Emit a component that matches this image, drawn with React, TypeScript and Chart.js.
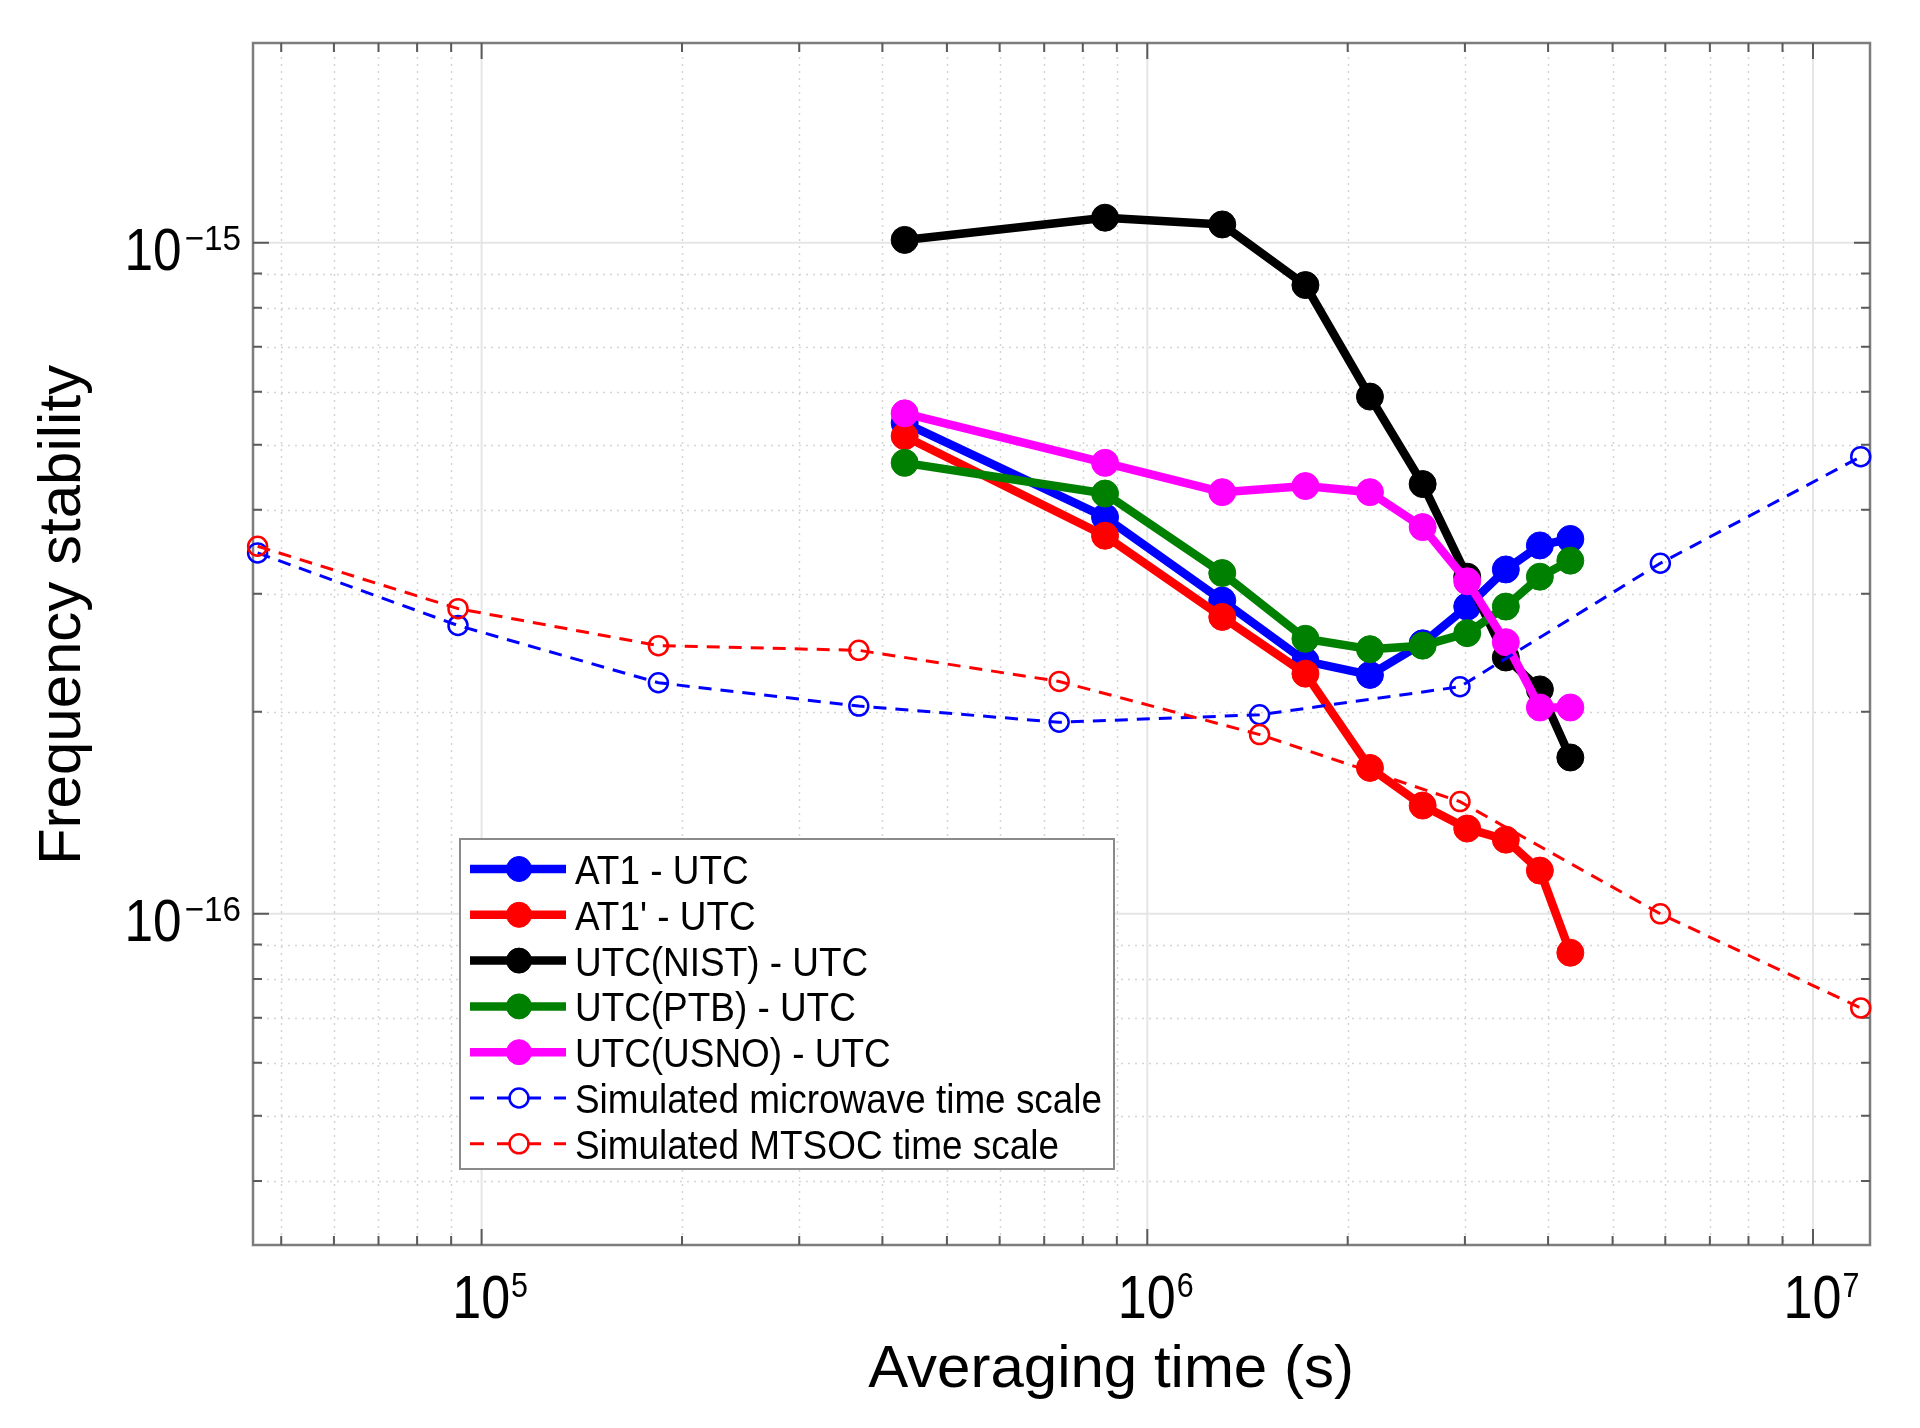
import React, { useEffect, useRef } from 'react';
import { Chart, registerables } from 'chart.js';

Chart.register(...registerables);

// ---------- data ----------
const tauMeasured = [432000, 864000, 1296000, 1728000, 2160000, 2592000, 3024000, 3456000, 3888000, 4320000];
const at1Utc = [5.39e-16, 3.9e-16, 2.93e-16, 2.38e-16, 2.27e-16, 2.53e-16, 2.87e-16, 3.26e-16, 3.54e-16, 3.62e-16];
const at1PrimeUtc = [5.15e-16, 3.66e-16, 2.77e-16, 2.28e-16, 1.65e-16, 1.45e-16, 1.34e-16, 1.29e-16, 1.16e-16, 8.75e-17];
const nistUtc = [1.01e-15, 1.09e-15, 1.065e-15, 8.65e-16, 5.9e-16, 4.37e-16, 3.18e-16, 2.41e-16, 2.16e-16, 1.71e-16];
const ptbUtc = [4.7e-16, 4.23e-16, 3.22e-16, 2.57e-16, 2.48e-16, 2.51e-16, 2.62e-16, 2.87e-16, 3.18e-16, 3.36e-16];
const usnoUtc = [5.57e-16, 4.7e-16, 4.25e-16, 4.34e-16, 4.25e-16, 3.77e-16, 3.13e-16, 2.54e-16, 2.03e-16, 2.03e-16];

const tauSimulated = [46080, 92160, 184320, 368640, 737280, 1474560, 2949120, 5898240, 11796480];
const simMicrowave = [3.45e-16, 2.69e-16, 2.21e-16, 2.04e-16, 1.93e-16, 1.98e-16, 2.18e-16, 3.33e-16, 4.8e-16];
const simMtsoc = [3.53e-16, 2.85e-16, 2.51e-16, 2.47e-16, 2.22e-16, 1.85e-16, 1.47e-16, 1.0e-16, 7.24e-17];

const seriesLabels = [
  'AT1 - UTC',
  "AT1' - UTC",
  'UTC(NIST) - UTC',
  'UTC(PTB) - UTC',
  'UTC(USNO) - UTC',
  'Simulated microwave time scale',
  'Simulated MTSOC time scale',
];

const xMajorTicks = [1e5, 1e6, 1e7];
const yMajorTicks = [1e-16, 1e-15];
const xTitle = 'Averaging time (s)';
const yTitle = 'Frequency stability';

const X_MIN = 45350;
const X_MAX = 1.218e7;
const Y_MIN = 3.21e-17;
const Y_MAX = 1.985e-15;

const FONT = '"Liberation Sans", Arial, Helvetica, sans-serif';

const toPoints = (xs: number[], ys: number[]) => xs.map((x, i) => ({ x, y: ys[i] }));

function minorValues(min: number, max: number) {
  const out: { v: number; major: boolean }[] = [];
  const d0 = Math.floor(Math.log10(min));
  const d1 = Math.ceil(Math.log10(max));
  for (let d = d0; d <= d1; d++) {
    for (let m = 1; m <= 9; m++) {
      const v = m * Math.pow(10, d);
      if (v >= min * 0.9999 && v <= max * 1.0001) out.push({ v, major: m === 1 });
    }
  }
  return out;
}

const expText = (n: number) => (n < 0 ? '\u2212' + String(-n) : String(n));

// draw text horizontally condensed by factor sx, left aligned at (x, y)
function condensedText(ctx: any, text: string, x: number, y: number, size: number, sx: number) {
  ctx.save();
  ctx.font = `${size}px ${FONT}`;
  ctx.textAlign = 'left';
  ctx.textBaseline = 'alphabetic';
  ctx.translate(x, y);
  ctx.scale(sx, 1);
  ctx.fillText(text, 0, 0);
  ctx.restore();
}
function condensedWidth(ctx: any, text: string, size: number, sx: number) {
  ctx.save();
  ctx.font = `${size}px ${FONT}`;
  const w = ctx.measureText(text).width * sx;
  ctx.restore();
  return w;
}

const axesPlugin = {
  id: 'matlabAxes',
  beforeDatasetsDraw(chart: any) {
    const { ctx, chartArea: a, scales } = chart;
    const xs = scales.x;
    const ys = scales.y;
    ctx.save();
    const xv = minorValues(X_MIN, X_MAX);
    const yv = minorValues(Y_MIN, Y_MAX);
    // minor dotted grid
    ctx.lineWidth = 1.5;
    ctx.strokeStyle = 'rgba(0,0,0,0.17)';
    ctx.setLineDash([2, 5]);
    ctx.beginPath();
    xv.filter((t) => !t.major).forEach((t) => {
      const px = Math.round(xs.getPixelForValue(t.v)) + 0.5;
      ctx.moveTo(px, a.top);
      ctx.lineTo(px, a.bottom);
    });
    yv.filter((t) => !t.major).forEach((t) => {
      const py = Math.round(ys.getPixelForValue(t.v)) + 0.5;
      ctx.moveTo(a.left, py);
      ctx.lineTo(a.right, py);
    });
    ctx.stroke();
    // major solid grid
    ctx.setLineDash([]);
    ctx.strokeStyle = 'rgba(0,0,0,0.10)';
    ctx.lineWidth = 2;
    ctx.beginPath();
    xMajorTicks.forEach((v) => {
      const px = xs.getPixelForValue(v);
      ctx.moveTo(px, a.top);
      ctx.lineTo(px, a.bottom);
    });
    yMajorTicks.forEach((v) => {
      const py = ys.getPixelForValue(v);
      ctx.moveTo(a.left, py);
      ctx.lineTo(a.right, py);
    });
    ctx.stroke();
    // box
    ctx.strokeStyle = '#7d7d7d';
    ctx.lineWidth = 2.5;
    ctx.strokeRect(a.left, a.top, a.right - a.left, a.bottom - a.top);
    // ticks (inward, all four sides)
    ctx.strokeStyle = '#5a5a5a';
    ctx.lineWidth = 2;
    ctx.beginPath();
    xv.forEach((t) => {
      const px = xs.getPixelForValue(t.v);
      const L = t.major ? 16 : 9;
      ctx.moveTo(px, a.bottom);
      ctx.lineTo(px, a.bottom - L);
      ctx.moveTo(px, a.top);
      ctx.lineTo(px, a.top + L);
    });
    yv.forEach((t) => {
      const py = ys.getPixelForValue(t.v);
      const L = t.major ? 16 : 9;
      ctx.moveTo(a.left, py);
      ctx.lineTo(a.left + L, py);
      ctx.moveTo(a.right, py);
      ctx.lineTo(a.right - L, py);
    });
    ctx.stroke();
    ctx.restore();
  },
  afterDatasetsDraw(chart: any) {
    const { ctx } = chart;
    // legend
    const box = { l: 460, t: 839, r: 1114, b: 1169 };
    ctx.save();
    ctx.fillStyle = '#ffffff';
    ctx.fillRect(box.l, box.t, box.r - box.l, box.b - box.t);
    ctx.strokeStyle = '#8a8a8a';
    ctx.lineWidth = 2;
    ctx.strokeRect(box.l, box.t, box.r - box.l, box.b - box.t);
    const rowY0 = 869;
    const rowDy = 45.8;
    chart.data.datasets.forEach((ds: any, i: number) => {
      const cy = rowY0 + i * rowDy;
      const isDashed = ds.borderDash && ds.borderDash.length;
      ctx.strokeStyle = ds.borderColor;
      ctx.lineWidth = ds.borderWidth;
      ctx.setLineDash([]);
      ctx.beginPath();
      if (isDashed) {
        [[470, 484], [497, 511], [527, 541], [554, 566]].forEach(([p, q]) => {
          ctx.moveTo(p, cy);
          ctx.lineTo(q, cy);
        });
      } else {
        ctx.moveTo(470, cy);
        ctx.lineTo(566, cy);
      }
      ctx.stroke();
      ctx.beginPath();
      ctx.arc(519, cy, isDashed ? ds.pointRadius : ds.pointRadius - 1, 0, Math.PI * 2);
      ctx.fillStyle = ds.pointBackgroundColor;
      ctx.fill();
      ctx.lineWidth = ds.pointBorderWidth;
      ctx.strokeStyle = ds.pointBorderColor;
      ctx.stroke();
      ctx.fillStyle = '#000';
      condensedText(ctx, ds.label, 575, cy + 15, 41, 0.9);
    });
    ctx.restore();
  },
  afterDraw(chart: any) {
    const { ctx, chartArea: a, scales } = chart;
    const xs = scales.x;
    const ys = scales.y;
    ctx.save();
    ctx.fillStyle = '#000';
    // x tick labels
    xMajorTicks.forEach((v) => {
      const px = xs.getPixelForValue(v);
      const e = expText(Math.round(Math.log10(v)));
      const wBase = condensedWidth(ctx, '10', 62, 0.84);
      const wExp = condensedWidth(ctx, e, 35, 0.87);
      const start = px - (wBase + wExp) / 2 + 8;
      condensedText(ctx, '10', start, a.bottom + 73, 62, 0.84);
      condensedText(ctx, e, start + wBase + 1, a.bottom + 52, 35, 0.87);
    });
    // y tick labels
    yMajorTicks.forEach((v) => {
      const py = ys.getPixelForValue(v);
      const e = expText(Math.round(Math.log10(v)));
      const wExp = condensedWidth(ctx, e, 35, 0.95);
      const right = a.left - 12;
      condensedText(ctx, e, right - wExp, py + 7, 35, 0.95);
      const wBase = condensedWidth(ctx, '10', 59, 0.87);
      condensedText(ctx, '10', right - wExp - wBase - 3, py + 27, 59, 0.87);
    });
    // axis titles
    ctx.font = `60px ${FONT}`;
    ctx.textAlign = 'center';
    ctx.textBaseline = 'alphabetic';
    ctx.fillText(xTitle, 1111, 1387);
    ctx.translate(80, 615);
    ctx.rotate(-Math.PI / 2);
    ctx.fillText(yTitle, 0, 0);
    ctx.restore();
  },
};

function solid(label: string, ys: number[], color: string, order: number) {
  return {
    label,
    data: toPoints(tauMeasured, ys),
    borderColor: color,
    backgroundColor: color,
    borderWidth: 8.5,
    borderJoinStyle: 'round' as const,
    borderCapStyle: 'round' as const,
    pointRadius: 13.5,
    pointBackgroundColor: color,
    pointBorderColor: color,
    pointBorderWidth: 1,
    pointStyle: 'circle',
    fill: false,
    tension: 0,
    order,
    clip: false as any,
  };
}

function dashed(label: string, ys: number[], color: string, order: number) {
  return {
    label,
    data: toPoints(tauSimulated, ys),
    borderColor: color,
    backgroundColor: color,
    borderWidth: 3,
    borderDash: [13, 9],
    pointRadius: 9.5,
    pointBackgroundColor: 'rgba(0,0,0,0)',
    pointBorderColor: color,
    pointBorderWidth: 2.5,
    pointStyle: 'circle',
    fill: false,
    tension: 0,
    order,
    clip: false as any,
  };
}

export default function App() {
  const ref = useRef<HTMLCanvasElement | null>(null);
  useEffect(() => {
    if (!ref.current) return;
    const chart = new Chart(ref.current, {
      type: 'line',
      data: {
        datasets: [
          solid(seriesLabels[0], at1Utc, '#0000ff', 7),
          solid(seriesLabels[1], at1PrimeUtc, '#ff0000', 6),
          solid(seriesLabels[2], nistUtc, '#000000', 5),
          solid(seriesLabels[3], ptbUtc, '#008000', 4),
          solid(seriesLabels[4], usnoUtc, '#ff00ff', 3),
          dashed(seriesLabels[5], simMicrowave, '#0000ff', 2),
          dashed(seriesLabels[6], simMtsoc, '#ff0000', 1),
        ] as any,
      },
      options: {
        responsive: false,
        animation: false,
        devicePixelRatio: 1,
        layout: { padding: { left: 0, right: 50, top: 43, bottom: 0 } },
        plugins: { legend: { display: false }, tooltip: { enabled: false } },
        scales: {
          x: {
            type: 'logarithmic',
            min: X_MIN,
            max: X_MAX,
            grid: { display: false },
            border: { display: false },
            ticks: { display: false },
            afterFit: (s: any) => {
              s.height = 183;
            },
          },
          y: {
            type: 'logarithmic',
            min: Y_MIN,
            max: Y_MAX,
            grid: { display: false },
            border: { display: false },
            ticks: { display: false },
            afterFit: (s: any) => {
              s.width = 253;
            },
          },
        },
      } as any,
      plugins: [axesPlugin],
    });
    return () => chart.destroy();
  }, []);
  return (
    <div style={{ position: 'absolute', left: 0, top: 0, width: 1920, height: 1428, background: '#fff' }}>
      <canvas ref={ref} width={1920} height={1428} style={{ display: 'block', width: 1920, height: 1428 }} />
    </div>
  );
}
